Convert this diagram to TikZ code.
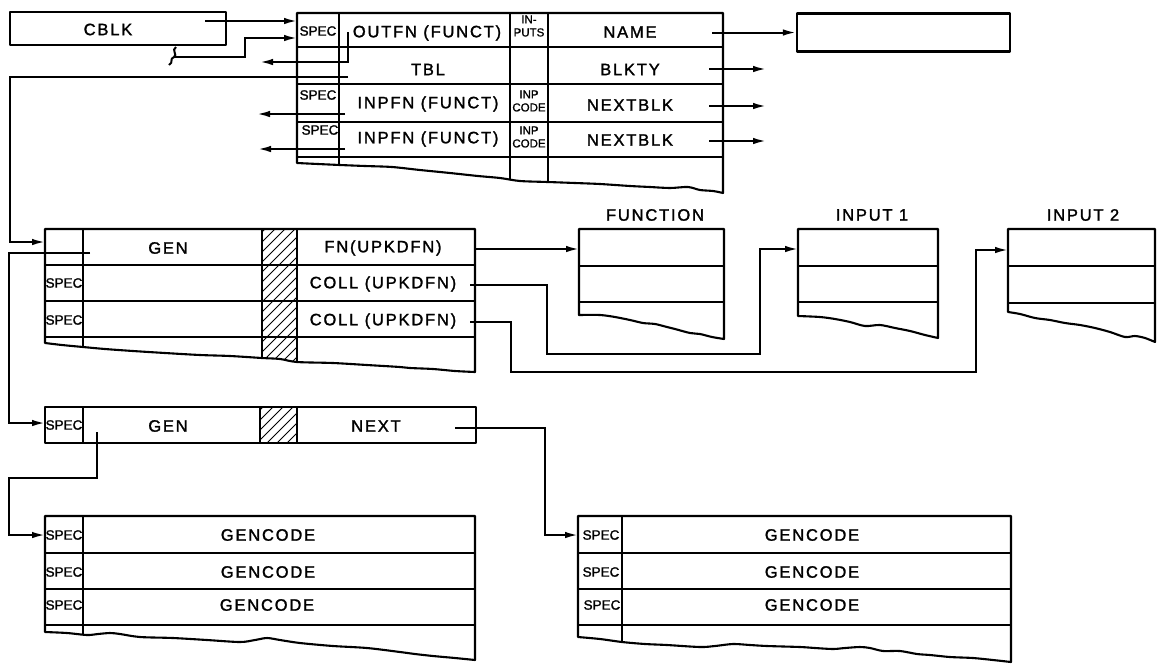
\documentclass[tikz,border=0pt]{standalone}
\usepackage{fontspec}
\setmainfont{Liberation Sans}[FakeBold=1.2]
\newfontfamily\lblfam{Liberation Sans}[LetterSpace=11,FakeBold=1.6]
\usetikzlibrary{arrows.meta}
\begin{document}
\begin{tikzpicture}[x=1pt,y=-1pt,
  box/.style={line width=2.1pt, line join=round},
  grid/.style={line width=1.7pt},
  conn/.style={line width=2pt},
  arr/.style={conn,-{Latex[length=13pt,width=6.5pt]}},
  hatch/.style={line width=1pt},
  lbl/.style={font=\lblfam\fontsize{16.5}{16.5}\selectfont, inner sep=0pt},
  spec/.style={font=\fontsize{13.5}{13.5}\selectfont, inner sep=0pt},
  tiny/.style={font=\fontsize{11.5}{13}\selectfont, inner sep=0pt, align=center},
]
\useasboundingbox (0,0) rectangle (1159,665);

% ---------- outlines ----------
\def\outltop{(297,13) -- (723,13) -- (723,193) -- plot[smooth,tension=0.5] coordinates {(723,193) (713,191) (700,190) (688,187) (670,188) (650,187) (630,186) (600,184) (575,183) (548,182) (520,181) (500,178) (478,176) (450,173) (420,170) (392,167) (365,166) (340,165) (318,164) (297,163)} -- cycle}
\def\outlgen{(45,229) -- (475,229) -- (475,372) -- plot[smooth,tension=0.5] coordinates {(475,372) (455,371) (433,369) (410,368) (400,367) (367,365) (333,363) (297,362) (280,359) (262,358) (230,356) (200,355) (165,353) (133,351) (105,349) (83,347) (62,345) (45,343)} -- cycle}
\def\outlfun{(579,229) -- (724,229) -- (724,339) -- plot[smooth,tension=0.5] coordinates {(724,339) (712,337) (700,334) (690,333) (675,329) (667,327) (655,324) (643,323) (630,320) (615,317) (600,315) (579,315)} -- cycle}
\def\outlinA{(798,229) -- (938,229) -- (938,338) -- plot[smooth,tension=0.5] coordinates {(938,338) (925,335) (910,331) (895,328) (880,325) (865,326) (850,322) (835,319) (820,317) (798,316)} -- cycle}
\def\outlinB{(1008,229) -- (1155,229) -- (1155,342) -- plot[smooth,tension=0.5] coordinates {(1155,342) (1145,338) (1135,336) (1125,337) (1110,332) (1095,328) (1080,325) (1065,323) (1050,320) (1035,318) (1020,314) (1008,312)} -- cycle}
\def\outlgcl{(45,516) -- (475,516) -- (475,660) -- plot[smooth,tension=0.5] coordinates {(475,660) (455,658) (433,656) (415,654) (400,652) (367,648) (333,646) (300,643) (280,640) (267,638) (255,640) (240,642) (207,640) (173,638) (140,637) (120,634) (110,633) (98,634) (87,635) (67,633) (45,632)} -- cycle}
\def\outlgcr{(578,516) -- (1011,516) -- (1011,662) -- plot[smooth,tension=0.5] coordinates {(1011,662) (993,660) (973,658) (950,657) (930,655) (917,654) (900,651) (883,651) (870,648) (860,647) (845,648) (833,649) (815,648) (800,647) (767,646) (750,645) (733,644) (715,646) (700,647) (667,645) (645,644) (622,642) (600,639) (578,637)} -- cycle}

% ---------- CBLK and name box ----------
\node[box, draw, minimum width=216pt, minimum height=33pt, inner sep=0pt] (cblk) at (118,28.5) {};
\node[lbl] (cblk-t) at (108,29.5) {CBLK};
\node[box, draw, minimum width=213pt, minimum height=38pt, inner sep=0pt] (namebox) at (903.5,32.5) {};

% ---------- top table ----------
\begin{scope}
  \clip \outltop;
  \draw[grid] (297,47) -- (723,47) (297,84) -- (723,84) (297,122) -- (723,122) (297,157) -- (723,157);
  \draw[grid] (339,13) -- (339,200) (510,13) -- (510,200) (548,13) -- (548,200);
\end{scope}
\draw[box] \outltop;
\node[spec] (spec-t1) at (318,31) {SPEC};
\node[lbl] (outfn) at (427,33) {OUTFN (FUNCT)};
\node[tiny] (inputs) at (529,26) {IN-\\PUTS};
\node[lbl] (name) at (630,32) {NAME};
\node[lbl] (tbl) at (428,69.5) {TBL};
\node[lbl] (blkty) at (630,69.5) {BLKTY};
\node[spec] (spec-t3) at (318,95) {SPEC};
\node[lbl] (inpfn1) at (428,104) {INPFN (FUNCT)};
\node[tiny] (inpcode1) at (529,101) {INP\\CODE};
\node[lbl] (nextblk1) at (630,105) {NEXTBLK};
\node[spec] (spec-t4) at (320,130) {SPEC};
\node[lbl] (inpfn2) at (428,139) {INPFN (FUNCT)};
\node[tiny] (inpcode2) at (529,137) {INP\\CODE};
\node[lbl] (nextblk2) at (630,140) {NEXTBLK};

% ---------- GEN table ----------
\begin{scope}
  \clip \outlgen;
  \draw[grid] (45,265) -- (475,265) (45,301) -- (475,301) (45,337) -- (475,337);
  \draw[grid] (83,229) -- (83,400) (262,229) -- (262,400) (297,229) -- (297,400);
  \clip (262,229) rectangle (297,400);
  \foreach \k in {0,...,20} \draw[hatch] (262,232+\k*10) -- ++(45,-45);
\end{scope}
\draw[box] \outlgen;
\node[lbl] (gen1) at (168,248) {GEN};
\node[lbl] (fn) at (383,248) {FN(UPKDFN)};
\node[spec] (spec-g2) at (64,283) {SPEC};
\node[lbl] (coll1) at (383,284) {COLL (UPKDFN)};
\node[spec] (spec-g3) at (64,320) {SPEC};
\node[lbl] (coll2) at (383,321) {COLL (UPKDFN)};

% ---------- FUNCTION / INPUT boxes ----------
\begin{scope}
  \clip \outlfun;
  \draw[grid] (579,266) -- (724,266) (579,302) -- (724,302);
\end{scope}
\draw[box] \outlfun;
\node[lbl] (function) at (655,215) {FUNCTION};
\begin{scope}
  \clip \outlinA;
  \draw[grid] (798,266) -- (938,266) (798,302) -- (938,302);
\end{scope}
\draw[box] \outlinA;
\node[lbl] (input1) at (872,215) {INPUT 1};
\begin{scope}
  \clip \outlinB;
  \draw[grid] (1008,266) -- (1155,266) (1008,303) -- (1155,303);
\end{scope}
\draw[box] \outlinB;
\node[lbl] (input2) at (1083,215) {INPUT 2};

% ---------- NEXT table ----------
\begin{scope}
  \clip (260,407) rectangle (297,443);
  \foreach \k in {0,...,8} \draw[hatch] (260,410+\k*10) -- ++(45,-45);
\end{scope}
\draw[grid] (83,407) -- (83,443) (260,407) -- (260,443) (297,407) -- (297,443);
\draw[box] (45,407) rectangle (476,443);
\node[spec] (spec-n) at (64,425) {SPEC};
\node[lbl] (gen2) at (168,426) {GEN};
\node[lbl] (next) at (376,426) {NEXT};

% ---------- GENCODE tables ----------
\begin{scope}
  \clip \outlgcl;
  \draw[grid] (45,553) -- (475,553) (45,589) -- (475,589) (45,625) -- (475,625);
  \draw[grid] (83,516) -- (83,700);
\end{scope}
\draw[box] \outlgcl;
\node[spec] (spec-l1) at (64,535) {SPEC};
\node[spec] (spec-l2) at (64,572) {SPEC};
\node[spec] (spec-l3) at (64,605) {SPEC};
\node[lbl] (gcl1) at (268,535) {GENCODE};
\node[lbl] (gcl2) at (268,572) {GENCODE};
\node[lbl] (gcl3) at (267,605) {GENCODE};

\begin{scope}
  \clip \outlgcr;
  \draw[grid] (578,553) -- (1011,553) (578,589) -- (1011,589) (578,625) -- (1011,625);
  \draw[grid] (622,516) -- (622,700);
\end{scope}
\draw[box] \outlgcr;
\node[spec] (spec-r1) at (601,535) {SPEC};
\node[spec] (spec-r2) at (601,572) {SPEC};
\node[spec] (spec-r3) at (602,605) {SPEC};
\node[lbl] (gcr1) at (812,535) {GENCODE};
\node[lbl] (gcr2) at (812,572) {GENCODE};
\node[lbl] (gcr3) at (812,605) {GENCODE};

% ---------- connector end points ----------
\coordinate (p-cblk1) at (205,21);
\coordinate (t-in1) at (297,21);
\coordinate (p-cblk2) at (174,57);
\coordinate (t-in2) at (297,38);
\coordinate (p-outfn) at (348,32);
\coordinate (a-outfn) at (260,62);
\coordinate (p-tbl) at (348,77);
\coordinate (gen-in) at (45,242);
\coordinate (p-inp1) at (345,114);
\coordinate (a-inp1) at (257,114);
\coordinate (p-inp2) at (345,149);
\coordinate (a-inp2) at (258,149);
\coordinate (p-name) at (712,32.5);
\coordinate (p-blkty) at (709,69);
\coordinate (a-blkty) at (766,69);
\coordinate (p-nb1) at (709,106);
\coordinate (a-nb1) at (766,106);
\coordinate (p-nb2) at (709,141);
\coordinate (a-nb2) at (766,141);
\coordinate (p-fn) at (475,249);
\coordinate (fun-in) at (579,249);
\coordinate (p-coll1) at (470,285);
\coordinate (in1-in) at (798,249);
\coordinate (p-coll2) at (470,322);
\coordinate (in2-in) at (1008,250);
\coordinate (p-gen1) at (90,253);
\coordinate (next-in) at (45,423);
\coordinate (p-gen2) at (97,432);
\coordinate (gcl-in) at (45,535);
\coordinate (p-next) at (455,428);
\coordinate (gcr-in) at (578,535);

% ---------- connectors ----------
\draw[arr] (p-cblk1) -- (t-in1);
\draw[conn] (176,47) .. controls (171,50) and (178,55) .. (p-cblk2) .. controls (169,59) and (174,62) .. (169,65);
\draw[arr] (p-cblk2) -- (245,57) |- (t-in2);
\draw[arr] (p-outfn) |- (a-outfn);
\draw[arr] (p-tbl) -- (10,77) |- (gen-in);
\draw[arr] (p-inp1) -- (a-inp1);
\draw[arr] (p-inp2) -- (a-inp2);
\draw[arr] (p-name) -- (namebox.west);
\draw[arr] (p-blkty) -- (a-blkty);
\draw[arr] (p-nb1) -- (a-nb1);
\draw[arr] (p-nb2) -- (a-nb2);
\draw[arr] (p-fn) -- (fun-in);
\draw[arr] (p-coll1) -- (547,285) -- (547,354) -- (760,354) |- (in1-in);
\draw[arr] (p-coll2) -- (511,322) -- (511,372) -- (976,372) |- (in2-in);
\draw[arr] (p-gen1) -- (9,253) |- (next-in);
\draw[arr] (p-gen2) -- (97,478) -- (9,478) |- (gcl-in);
\draw[arr] (p-next) -- (545,428) |- (gcr-in);
\end{tikzpicture}
\end{document}
